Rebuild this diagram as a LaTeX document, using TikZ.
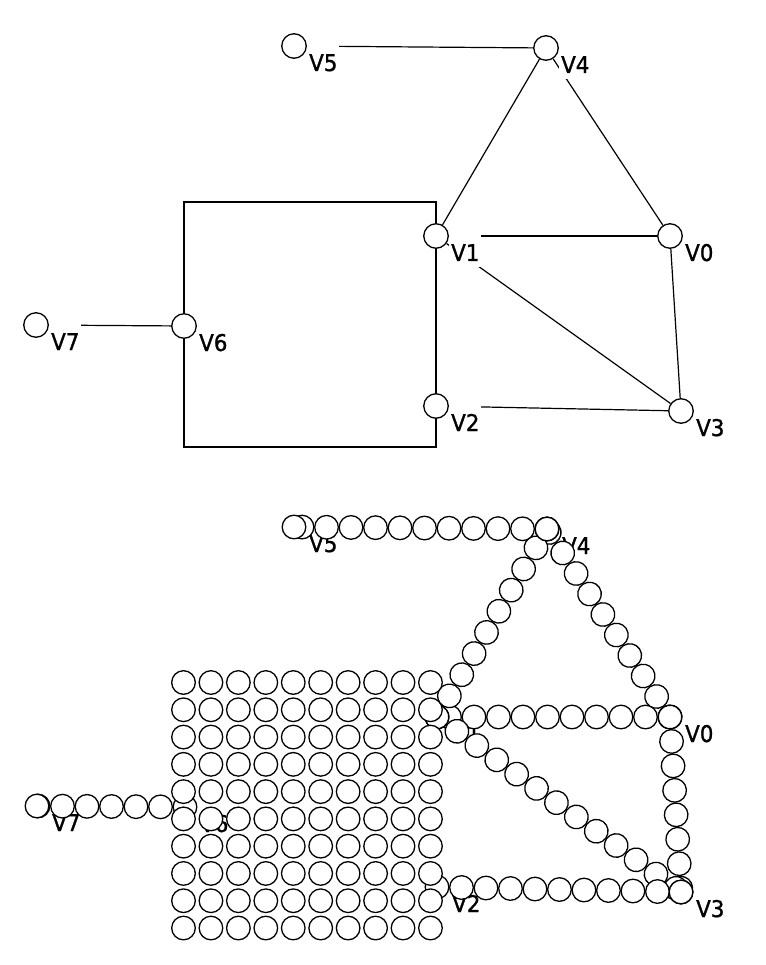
\documentclass[tikz,border=0pt]{standalone}
\usepackage{fontspec}
\newfontfamily\vertexfont[FakeStretch=0.93, FakeBold=1.2]{DejaVu Sans}
\usetikzlibrary{backgrounds,decorations.markings}

\tikzset{
    vertex/.style={circle, draw, fill=white, line width=1.3pt,
        minimum size=24.5pt, inner sep=0pt},
    vlabel/.style={font=\vertexfont\fontsize{23}{23}\selectfont,
        fill=white, inner xsep=2pt, inner ysep=0pt,
        text height=26.5pt, text depth=6pt, anchor=base west},
    edge/.style={line width=1.2pt},
    frame/.style={line width=1.4pt},
    bead/.style={draw=black, fill=white, line width=1.3pt},
    beads/.style={decorate, decoration={markings,
        mark=between positions 0 and 1 step 24.5pt with
            {\filldraw[bead] (0,0) circle (11.8pt);}}}
}

\begin{document}
\begin{tikzpicture}[x=1pt, y=-1pt]
    \useasboundingbox (0,0) rectangle (765,965);

    % Upper graph
    \foreach \n/\x/\y in {0/670/236, 1/436/236, 2/436/406, 3/681/411,
                          4/546/48, 5/294/46, 6/184/326, 7/36/325} {
        \node[vertex] (v\n) at (\x,\y) {};
        \node[vlabel] (l\n) at ([shift={(13,25)}]v\n.center) {V\n};
    }
    \coordinate (sqtop) at (0,202);
    \coordinate (sqbot) at (0,447);

    \begin{scope}[on background layer]
        \foreach \a/\b in {5/4, 4/1, 4/0, 1/0, 1/3, 0/3, 2/3, 7/6}
            \draw[edge] (v\a) -- (v\b);
        \draw[frame] (v1) -- (v1 |- sqtop) -- (v6 |- sqtop) -- (v6);
        \draw[frame] (v2) -- (v2 |- sqbot) -- (v6 |- sqbot) -- (v6);
        \draw[frame] (v1) -- (v2);
    \end{scope}

    % Lower graph: edges as chains of circles
    \foreach \n/\x/\y in {0/670/717, 1/437/717, 2/437/887, 3/681/892,
                          4/547/529, 5/294/527, 6/185/807, 7/37/806} {
        \coordinate (q\n) at (\x,\y);
        \node[vlabel, fill=none] (m\n) at ([shift={(13,25)}]q\n) {V\n};
    }
    \foreach \a/\b in {0/1, 0/3, 0/4, 1/3, 1/4, 2/3, 4/5, 6/7} {
        \path[beads] (q\a) -- (q\b);
        \filldraw[bead] (q\b) circle (11.8pt);
    }

    % Filled square
    \foreach \i in {0,...,9}
        \foreach \j in {0,...,9}
            \filldraw[bead] (183.5+27.44*\i, 682.5+27.28*\j) circle (11.8pt);
\end{tikzpicture}
\end{document}
